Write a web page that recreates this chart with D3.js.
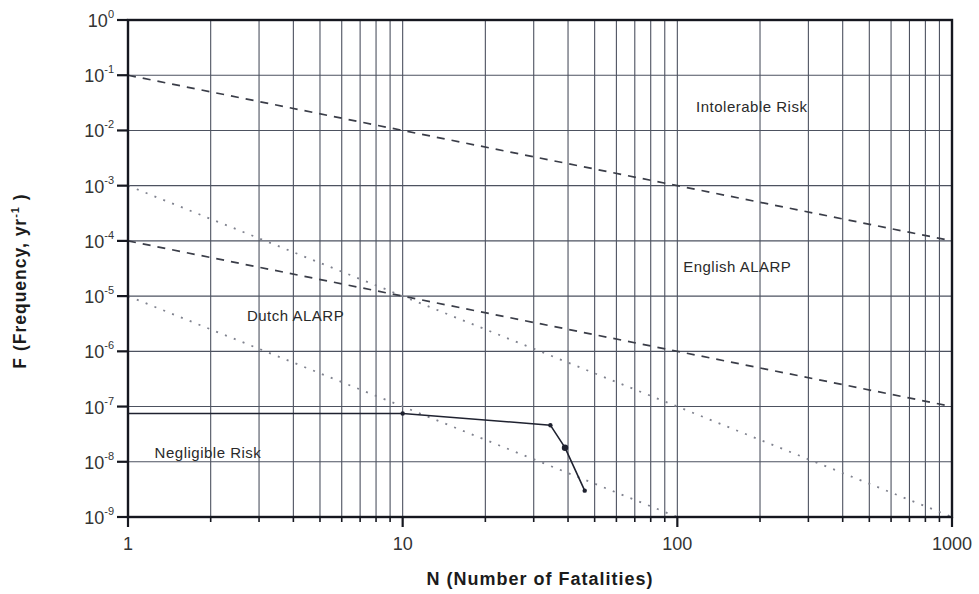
<!DOCTYPE html>
<html>
<head>
<meta charset="utf-8">
<script src="https://cdn.jsdelivr.net/npm/d3@7"></script>
<style>
  html, body { margin: 0; padding: 0; background: #fff; }
  svg { display: block; font-family: "Liberation Sans", Arial, sans-serif; }
</style>
</head>
<body>
<svg id="chart" width="979" height="594"></svg>
<script>
// F-N criteria lines: [N, F] end points
const intolerableLine = [[1, 1e-1], [1000, 1e-4]];
const englishLowerLine = [[1, 1e-4], [1000, 1e-7]];
const dutchUpperLine = [[1, 1e-3], [1000, 1e-9]];
const dutchLowerLine = [[1, 1e-5], [100, 1e-9]];

// Computed F-N curve
const fnN = [1, 10, 34.5, 39, 46];
const fnF = [7.5e-8, 7.5e-8, 4.6e-8, 1.8e-8, 3.0e-9];
const fnMarkers = [10, 34.5, 39, 46];

// Axis ticks
const xMajor = [1, 10, 100, 1000];
const xLabels = ["1", "10", "100", "1000"];
const yExponents = [0, -1, -2, -3, -4, -5, -6, -7, -8, -9];

// Region labels
const regionNames = ["Intolerable Risk", "English ALARP", "Dutch ALARP", "Negligible Risk"];
const regionN = [117, 105, 2.71, 1.25];
const regionF = [2.2e-2, 2.7e-5, 3.5e-6, 1.17e-8];

const svg = d3.select("#chart");
const plotL = 128, plotR = 952, plotT = 20, plotB = 517;

const x = d3.scaleLog().domain([1, 1000]).range([plotL, plotR]);
const y = d3.scaleLog().domain([1e-9, 1]).range([plotB, plotT]);

// Grid values for every 1..9 step of each decade
const xGrid = [];
for (let d = 1; d < 1000; d *= 10) for (let k = 1; k <= 9; k++) xGrid.push(d * k);
xGrid.push(1000);

const g = svg.append("g");

// Vertical grid
g.selectAll("line.vg").data(xGrid.filter(v => v > 1 && v < 1000)).enter()
  .append("line").attr("class", "vg")
  .attr("x1", d => x(d)).attr("x2", d => x(d))
  .attr("y1", plotT).attr("y2", plotB)
  .attr("stroke", "#4d5260").attr("stroke-width", 1.1);

// Horizontal grid
g.selectAll("line.hg").data(yExponents.filter(e => e < 0 && e > -9)).enter()
  .append("line").attr("class", "hg")
  .attr("x1", plotL).attr("x2", plotR)
  .attr("y1", e => y(Math.pow(10, e))).attr("y2", e => y(Math.pow(10, e)))
  .attr("stroke", "#4d5260").attr("stroke-width", 1.1);

const line = d3.line().x(d => x(d[0])).y(d => y(d[1]));

// Dashed criteria lines
[intolerableLine, englishLowerLine].forEach(pts => {
  g.append("path").attr("d", line(pts))
    .attr("fill", "none").attr("stroke", "#3a3d48")
    .attr("stroke-width", 1.7).attr("stroke-dasharray", "8,7");
});

// Dotted criteria lines
[dutchUpperLine, dutchLowerLine].forEach(pts => {
  g.append("path").attr("d", line(pts))
    .attr("fill", "none").attr("stroke", "#80838f")
    .attr("stroke-width", 1.8).attr("stroke-dasharray", "2,7.5");
});

// F-N curve
const fnPts = fnN.map((n, i) => [n, fnF[i]]);
g.append("path").attr("d", line(fnPts))
  .attr("fill", "none").attr("stroke", "#1f2230").attr("stroke-width", 1.6);

const fnLookup = new Map(fnPts.map(p => [p[0], p[1]]));
g.selectAll("circle.fn").data(fnMarkers).enter()
  .append("circle").attr("class", "fn")
  .attr("cx", d => x(d)).attr("cy", d => y(fnLookup.get(d)))
  .attr("r", (d, i) => i === 2 ? 3.2 : 2.2)
  .attr("fill", "#1f2230");

// Frame
g.append("rect").attr("x", plotL).attr("y", plotT)
  .attr("width", plotR - plotL).attr("height", plotB - plotT)
  .attr("fill", "none").attr("stroke", "#15171f").attr("stroke-width", 2.4);

// Y ticks and labels
const yAxis = svg.append("g");
yExponents.forEach(e => {
  const yy = y(Math.pow(10, e));
  yAxis.append("line").attr("x1", plotL - 11).attr("x2", plotL)
    .attr("y1", yy).attr("y2", yy).attr("stroke", "#15171f").attr("stroke-width", 2.2);
  const t = yAxis.append("text").attr("x", 114).attr("y", yy + 7)
    .attr("text-anchor", "end").attr("fill", "#333").attr("font-size", 18);
  t.append("tspan").text("10");
  t.append("tspan").attr("dy", -9).attr("font-size", 11).text(String(e));
});

// X ticks and labels
const xAxis = svg.append("g");
xGrid.forEach(v => {
  const major = xMajor.includes(v);
  xAxis.append("line").attr("x1", x(v)).attr("x2", x(v))
    .attr("y1", plotB).attr("y2", plotB + (major ? 10 : 5))
    .attr("stroke", "#15171f").attr("stroke-width", major ? 2.2 : 1.6);
});
xMajor.forEach((v, i) => {
  xAxis.append("text").attr("x", x(v)).attr("y", 550)
    .attr("text-anchor", "middle").attr("fill", "#333").attr("font-size", 18)
    .text(xLabels[i]);
});

// Axis titles
svg.append("text").attr("x", 540).attr("y", 585)
  .attr("text-anchor", "middle").attr("font-weight", "bold").attr("font-size", 18)
  .attr("letter-spacing", 1).attr("fill", "#1b1b1b").text("N (Number of Fatalities)");

const yt = svg.append("text").attr("transform", "translate(26,281) rotate(-90)")
  .attr("text-anchor", "middle").attr("font-weight", "bold").attr("font-size", 17.5)
  .attr("letter-spacing", 1).attr("fill", "#1b1b1b");
yt.append("tspan").text("F (Frequency, yr");
yt.append("tspan").attr("dy", -7).attr("font-size", 11).text("-1");
yt.append("tspan").attr("dy", 7).text(" )");

// Region labels
svg.selectAll("text.region").data(regionNames).enter()
  .append("text").attr("class", "region")
  .attr("x", (d, i) => x(regionN[i])).attr("y", (d, i) => y(regionF[i]))
  .attr("font-size", 15).attr("letter-spacing", 0.5).attr("fill", "#2a2a2a")
  .text(d => d);
</script>
</body>
</html>
